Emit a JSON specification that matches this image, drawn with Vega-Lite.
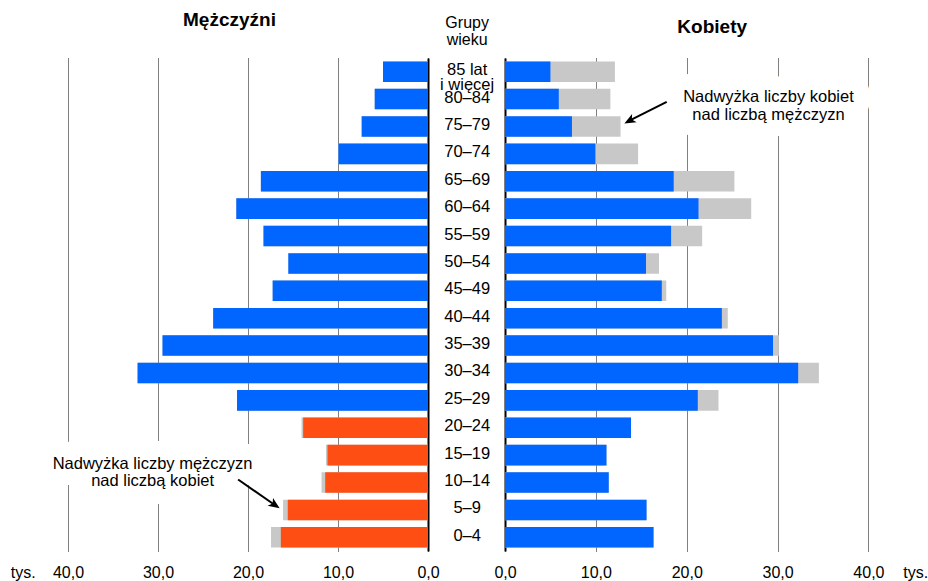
{
  "$schema": "https://vega.github.io/schema/vega-lite/v6.json",
  "padding": {"left": 10, "top": 11, "right": 0, "bottom": 0},
  "config": {
    "font": "Liberation Sans",
    "view": {"stroke": null},
    "axisX": {"tickCount": 4, "domain": false, "ticks": false, "tickSize": 0, "grid": true, "gridDash": [1, 1], "gridColor": "#000", "gridWidth": 1, "labelExpr": "replace(format(datum.value, '.1f'), '.', ',')", "labelFontSize": 16, "labelColor": "#000", "labelBaseline": "alphabetic", "labelPadding": 26.5, "labelFlush": false, "labelFont": "Liberation Sans", "titleFont": "Liberation Sans", "titleFontSize": 16, "titleFontWeight": "normal", "titleColor": "#000", "titleAngle": 0, "titleAlign": "left", "titleBaseline": "alphabetic", "titleY": 26.5}
  },
  "datasets": {
    "pop": [
      {"age": "85 lat\ni więcej", "m": 5.0, "k": 12.1},
      {"age": "80–84", "m": 5.92, "k": 11.6},
      {"age": "75–79", "m": 7.37, "k": 12.72},
      {"age": "70–74", "m": 9.95, "k": 14.65},
      {"age": "65–69", "m": 18.57, "k": 25.25},
      {"age": "60–64", "m": 21.3, "k": 27.1},
      {"age": "55–59", "m": 18.28, "k": 21.7},
      {"age": "50–54", "m": 15.52, "k": 16.95},
      {"age": "45–49", "m": 17.26, "k": 17.75},
      {"age": "40–44", "m": 23.87, "k": 24.52},
      {"age": "35–39", "m": 29.5, "k": 30.15},
      {"age": "30–34", "m": 32.27, "k": 34.55},
      {"age": "25–29", "m": 21.22, "k": 23.5},
      {"age": "20–24", "m": 14.05, "k": 13.87},
      {"age": "15–19", "m": 11.34, "k": 11.17},
      {"age": "10–14", "m": 11.83, "k": 11.42},
      {"age": "5–9", "m": 16.1, "k": 15.58},
      {"age": "0–4", "m": 17.44, "k": 16.35}
    ],
    "note": [{"id": 1}]
  },
  "data": {"name": "pop"},
  "bounds": "flush",
  "spacing": 0,
  "hconcat": [
    {
      "width": 360,
      "height": 493,
      "title": {"text": "Mężczyźni", "fontSize": 19, "fontWeight": "bold", "anchor": "middle", "dx": -18.5, "baseline": "alphabetic", "offset": 13, "color": "#000"},
      "encoding": {
        "y": {
          "field": "age", "type": "nominal",
          "scale": {"domain": ["85 lat\ni więcej", "80–84", "75–79", "70–74", "65–69", "60–64", "55–59", "50–54", "45–49", "40–44", "35–39", "30–34", "25–29", "20–24", "15–19", "10–14", "5–9", "0–4"], "paddingInner": 0.25, "paddingOuter": 0.125},
          "axis": {"orient": "right", "domain": true, "domainColor": "#000", "domainWidth": 2, "labels": false, "ticks": false, "grid": false, "title": null}
        }
      },
      "layer": [
        {
          "mark": {"type": "bar", "color": "#C8C8C8"},
          "encoding": {
            "x": {
              "field": "m", "type": "quantitative", "title": "tys.",
              "scale": {"domain": [0, 40], "reverse": true, "nice": false},
              "axis": {"titleX": -57.7}
            }
          }
        },
        {
          "transform": [{"filter": "datum.m > datum.k"}],
          "mark": {"type": "bar", "color": "#FF4E14"},
          "encoding": {"x": {"field": "k", "type": "quantitative", "title": "tys."}}
        },
        {
          "transform": [{"filter": "datum.m <= datum.k"}],
          "mark": {"type": "bar", "color": "#0066FF"},
          "encoding": {"x": {"field": "m", "type": "quantitative", "title": "tys."}}
        },
        {
          "data": {"name": "note"},
          "mark": {"type": "text", "fontSize": 16.5, "lineHeight": 17.6, "baseline": "middle", "align": "center", "dy": 8.5, "stroke": "white", "strokeWidth": 32, "strokeJoin": "round", "fill": "white"},
          "encoding": {
            "x": {"datum": 30.6, "type": "quantitative", "title": "tys."},
            "y": {"datum": "15–19", "type": "nominal"},
            "text": {"value": ["Nadwyżka liczby mężczyzn", "nad liczbą kobiet"]}
          }
        },
        {
          "data": {"name": "note"},
          "mark": {"type": "text", "fontSize": 16.5, "lineHeight": 17.6, "baseline": "middle", "align": "center", "dy": 8.5, "fill": "#000"},
          "encoding": {
            "x": {"datum": 30.6, "type": "quantitative", "title": "tys."},
            "y": {"datum": "15–19", "type": "nominal"},
            "text": {"value": ["Nadwyżka liczby mężczyzn", "nad liczbą kobiet"]}
          }
        },
        {
          "data": {"name": "note"},
          "mark": {"type": "rule", "color": "#000", "strokeWidth": 2, "yOffset": -3, "y2Offset": -5.2},
          "encoding": {
            "x": {"datum": 21.1, "type": "quantitative", "title": "tys."},
            "x2": {"datum": 17.06},
            "y": {"datum": "10–14", "type": "nominal"},
            "y2": {"datum": "5–9"}
          }
        },
        {
          "data": {"name": "note"},
          "mark": {"type": "point", "shape": "M0,-1L0.75,0.8L0,0.35L-0.75,0.8Z", "filled": true, "color": "#000", "opacity": 1, "size": 160, "angle": 124.9, "yOffset": -5.2},
          "encoding": {
            "x": {"datum": 17.06, "type": "quantitative", "title": "tys."},
            "y": {"datum": "5–9", "type": "nominal"}
          }
        }
      ]
    },
    {
      "width": 76.3,
      "height": 493,
      "title": {"text": ["Grupy", "wieku"], "fontSize": 16, "fontWeight": "normal", "anchor": "middle", "dx": 1, "baseline": "alphabetic", "lineHeight": 17.5, "offset": -3, "color": "#000"},
      "mark": {"type": "text", "fontSize": 16.5, "lineHeight": 15, "lineBreak": "\n", "baseline": "middle", "align": "center", "dx": 1, "dy": -1.5, "color": "#000"},
      "encoding": {
        "y": {
          "field": "age", "type": "nominal",
          "scale": {"domain": ["85 lat\ni więcej", "80–84", "75–79", "70–74", "65–69", "60–64", "55–59", "50–54", "45–49", "40–44", "35–39", "30–34", "25–29", "20–24", "15–19", "10–14", "5–9", "0–4"], "paddingInner": 0.25, "paddingOuter": 0.125},
          "axis": null
        },
        "text": {"field": "age"}
      }
    },
    {
      "width": 363.4,
      "height": 493,
      "title": {"text": "Kobiety", "fontSize": 19, "fontWeight": "bold", "anchor": "middle", "dx": 25.5, "baseline": "alphabetic", "offset": 6, "color": "#000"},
      "encoding": {
        "y": {
          "field": "age", "type": "nominal",
          "scale": {"domain": ["85 lat\ni więcej", "80–84", "75–79", "70–74", "65–69", "60–64", "55–59", "50–54", "45–49", "40–44", "35–39", "30–34", "25–29", "20–24", "15–19", "10–14", "5–9", "0–4"], "paddingInner": 0.25, "paddingOuter": 0.125},
          "axis": {"orient": "left", "domain": true, "domainColor": "#000", "domainWidth": 2, "labels": false, "ticks": false, "grid": false, "title": null}
        }
      },
      "layer": [
        {
          "mark": {"type": "bar", "color": "#C8C8C8"},
          "encoding": {
            "x": {
              "field": "k", "type": "quantitative", "title": "tys.",
              "scale": {"domain": [0, 40], "nice": false},
              "axis": {"titleX": 397.7}
            }
          }
        },
        {
          "transform": [{"filter": "datum.m < datum.k"}],
          "mark": {"type": "bar", "color": "#0066FF"},
          "encoding": {"x": {"field": "m", "type": "quantitative", "title": "tys."}}
        },
        {
          "transform": [{"filter": "datum.m >= datum.k"}],
          "mark": {"type": "bar", "color": "#0066FF"},
          "encoding": {"x": {"field": "k", "type": "quantitative", "title": "tys."}}
        },
        {
          "data": {"name": "note"},
          "mark": {"type": "text", "fontSize": 16.5, "lineHeight": 17.6, "baseline": "middle", "align": "center", "dy": -2, "stroke": "white", "strokeWidth": 32, "strokeJoin": "round", "fill": "white"},
          "encoding": {
            "x": {"datum": 29.0, "type": "quantitative", "title": "tys."},
            "y": {"datum": "80–84", "type": "nominal"},
            "text": {"value": ["Nadwyżka liczby kobiet", "nad liczbą mężczyzn"]}
          }
        },
        {
          "data": {"name": "note"},
          "mark": {"type": "text", "fontSize": 16.5, "lineHeight": 17.6, "baseline": "middle", "align": "center", "dy": -2, "fill": "#000"},
          "encoding": {
            "x": {"datum": 29.0, "type": "quantitative", "title": "tys."},
            "y": {"datum": "80–84", "type": "nominal"},
            "text": {"value": ["Nadwyżka liczby kobiet", "nad liczbą mężczyzn"]}
          }
        },
        {
          "data": {"name": "note"},
          "mark": {"type": "rule", "color": "#000", "strokeWidth": 2, "yOffset": 2.7, "y2Offset": -6},
          "encoding": {
            "x": {"datum": 17.8, "type": "quantitative", "title": "tys."},
            "x2": {"datum": 13.75},
            "y": {"datum": "80–84", "type": "nominal"},
            "y2": {"datum": "75–79"}
          }
        },
        {
          "data": {"name": "note"},
          "mark": {"type": "point", "shape": "M0,-1L0.75,0.8L0,0.35L-0.75,0.8Z", "filled": true, "color": "#000", "opacity": 1, "size": 160, "angle": 241.3, "yOffset": -6},
          "encoding": {
            "x": {"datum": 13.75, "type": "quantitative", "title": "tys."},
            "y": {"datum": "75–79", "type": "nominal"}
          }
        }
      ]
    }
  ]
}
